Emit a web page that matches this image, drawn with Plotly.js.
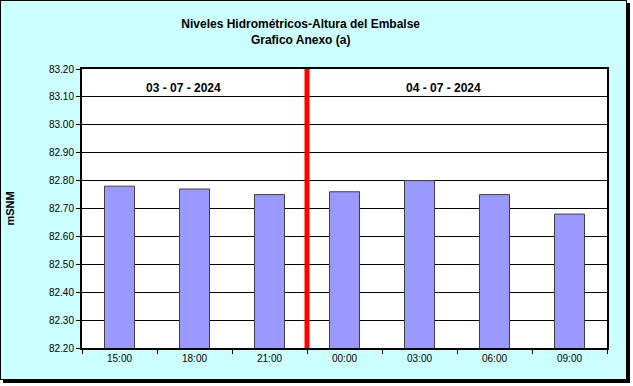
<!DOCTYPE html>
<html><head><meta charset="utf-8">
<script src="https://cdn.plot.ly/plotly-3.0.1.min.js"></script>
<style>
html,body{margin:0;padding:0;background:#fff;width:633px;height:386px;overflow:hidden}
#frame{position:absolute;left:0;top:0;width:625px;height:378px;background:#CCFFFF;border:1px solid #000;box-shadow:3px 3px 0 #000}
#chart{position:absolute;left:0;top:0;width:633px;height:386px}
</style></head>
<body>
<div id="frame"></div>
<div id="chart"></div>
<script>
const categories = ["15:00","18:00","21:00","00:00","03:00","06:00","09:00"];
const levels = [82.78, 82.77, 82.75, 82.76, 82.80, 82.75, 82.68];
const dateLabels = ["03 - 07 - 2024", "04 - 07 - 2024"];
const yTicks = [82.20,82.30,82.40,82.50,82.60,82.70,82.80,82.90,83.00,83.10,83.20];

const font = "Arial, 'Liberation Sans', sans-serif";
Plotly.newPlot('chart', [{
  type:'bar', x:categories, y:levels,
  marker:{color:'#9999FF', line:{color:'#404040', width:1}},
  hoverinfo:'skip'
}], {
  width:633, height:386,
  margin:{l:82, r:26, t:69, b:38, pad:0},
  paper_bgcolor:'rgba(0,0,0,0)', plot_bgcolor:'#FFFFFF',
  bargap:0.6, showlegend:false,
  title:{text:'<b>Niveles Hidrométricos-Altura del Embalse<br>Grafico Anexo (a)</b>', font:{family:font, size:12, color:'#000'}, x:0.475, xanchor:'center', y:0.927, yanchor:'middle'},
  xaxis:{type:'category', tickson:'boundaries', ticks:'outside', ticklen:4, tickcolor:'#000',
    showline:true, linecolor:'#000', linewidth:2, mirror:true, showgrid:false,
    tickfont:{family:font, size:10, color:'#000'}, range:[-0.5,6.5]},
  yaxis:{range:[82.2,83.2], tickvals:yTicks, tickformat:'.2f', ticks:'outside', ticklen:4, tickcolor:'#000',
    showline:true, linecolor:'#000', linewidth:2, mirror:true, gridcolor:'#000', gridwidth:1,
    tickfont:{family:font, size:10, color:'#000'},
    title:{text:'<b>mSNM</b>', font:{family:font, size:11, color:'#000'}, standoff:32}, zeroline:false},
  shapes:[{type:'line', xref:'x', yref:'paper', x0:2.5, x1:2.5, y0:0, y1:1, line:{color:'#FF0000', width:5}}],
  annotations:[
    {text:'<b>'+dateLabels[0]+'</b>', xref:'paper', yref:'paper', x:0.194, y:0.932, xanchor:'center', yanchor:'middle', showarrow:false, font:{family:font, size:12, color:'#000'}},
    {text:'<b>'+dateLabels[1]+'</b>', xref:'paper', yref:'paper', x:0.688, y:0.932, xanchor:'center', yanchor:'middle', showarrow:false, font:{family:font, size:12, color:'#000'}}
  ]
}, {staticPlot:true});
</script>
</body></html>
